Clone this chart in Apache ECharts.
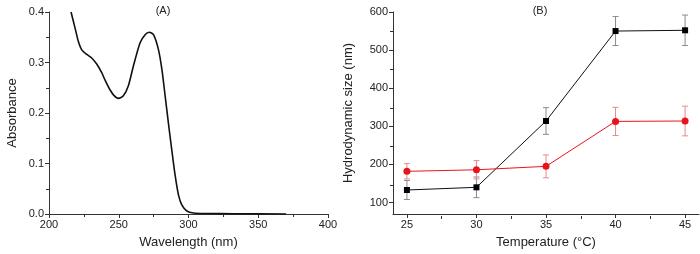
<!DOCTYPE html>
<html><head><meta charset="utf-8">
<script src="https://cdn.jsdelivr.net/npm/echarts@6/dist/echarts.min.js"></script>
<style>html,body{margin:0;padding:0;background:#fff}#c{width:700px;height:254px}</style>
</head><body><div id="c"></div>
<script>
// Panel A: UV-Vis spectrum
var wavelength = [215.8, 218.7, 221.0, 223.5, 227.1, 230.6, 234.2, 237.8, 240.2, 243.5, 246.5, 249.8, 253.3, 256.9, 260.5, 265.3, 268.9, 271.8, 274.9, 278.5, 281.0, 283.2, 285.6, 288.1, 290.4, 292.8, 295.2, 298.8, 303.6, 313, 332, 370];
var absorbance = [0.400, 0.368, 0.342, 0.325, 0.316, 0.309, 0.297, 0.280, 0.265, 0.247, 0.235, 0.229, 0.234, 0.254, 0.293, 0.339, 0.355, 0.360, 0.355, 0.325, 0.285, 0.235, 0.180, 0.125, 0.077, 0.038, 0.018, 0.006, 0.002, 0.001, 0.0005, 0.0];
// Panel B: hydrodynamic size vs temperature
var temperature = [25, 30, 35, 40, 45];
var blackSize = [133, 140, 314, 550, 552];
var blackErr = [25, 27, 35, 38, 40];
var redSize = [182, 186, 195, 313, 314];
var redErr = [20, 24, 30, 37, 39];
var xTicksB = [25, 30, 35, 40, 45];
var xMinorB = [27.5, 32.5, 37.5, 42.5];
var yTicksB = [100, 200, 300, 400, 500, 600];
var yMinorB = [150, 250, 350, 450, 550];

var FONT = '"Liberation Sans", Arial, sans-serif';
var AX = '#333';
var TXT = '#222';

function pairs(xs, ys) { return xs.map(function (x, i) { return [x, ys[i]]; }); }
function errData(xs, ys, es) { return xs.map(function (x, i) { return [x, ys[i] - es[i], ys[i] + es[i]]; }); }
function errSeries(data, color, xi, yi) {
  return {
    type: 'custom', xAxisIndex: xi, yAxisIndex: yi, data: data, z: 1,
    renderItem: function (params, api) {
      var lo = api.coord([api.value(0), api.value(1)]);
      var hi = api.coord([api.value(0), api.value(2)]);
      var w = 3;
      var st = { stroke: color, lineWidth: 1 };
      return { type: 'group', children: [
        { type: 'line', shape: { x1: lo[0], y1: lo[1], x2: hi[0], y2: hi[1] }, style: st },
        { type: 'line', shape: { x1: lo[0] - w, y1: lo[1], x2: lo[0] + w, y2: lo[1] }, style: st },
        { type: 'line', shape: { x1: hi[0] - w, y1: hi[1], x2: hi[0] + w, y2: hi[1] }, style: st }
      ]};
    }
  };
}

var axLabel = { color: TXT, fontFamily: FONT, fontSize: 11, margin: 5 };
var nameStyle = { color: TXT, fontFamily: FONT, fontSize: 13 };

var chart = echarts.init(document.getElementById('c'), null, { renderer: 'canvas' });
chart.setOption({
  animation: false,
  backgroundColor: '#fff',
  title: [
    { text: '(A)', left: 158, top: 0, textAlign: 'center', textStyle: { fontFamily: FONT, fontSize: 11, fontWeight: 'normal', color: TXT } },
    { text: '(B)', left: 535, top: 0, textAlign: 'center', textStyle: { fontFamily: FONT, fontSize: 11, fontWeight: 'normal', color: TXT } }
  ],
  grid: [
    { left: 49, top: 12, width: 279, height: 204 },
    { left: 393, top: 12, width: 306, height: 204 },
    { left: 393, top: 12, width: 306, height: 204 }
  ],
  xAxis: [
    { type: 'value', gridIndex: 0, min: 200, max: 400, interval: 50,
      name: 'Wavelength (nm)', nameLocation: 'middle', nameGap: 22, nameTextStyle: nameStyle,
      axisLine: { lineStyle: { color: AX } }, axisTick: { length: 4, lineStyle: { color: AX } },
      minorTick: { show: true, splitNumber: 2, length: 3, lineStyle: { color: AX } },
      axisLabel: axLabel, splitLine: { show: false } },
    { type: 'value', gridIndex: 1, min: 24, max: 46,
      name: 'Temperature (°C)', nameLocation: 'middle', nameGap: 22, nameTextStyle: nameStyle,
      axisLine: { lineStyle: { color: AX } },
      axisTick: { length: 4, customValues: xTicksB, lineStyle: { color: AX } },
      axisLabel: Object.assign({}, axLabel, { customValues: xTicksB }), splitLine: { show: false } },
    { type: 'value', gridIndex: 2, min: 24, max: 46,
      axisLine: { show: false },
      axisTick: { length: 3, customValues: xMinorB, lineStyle: { color: AX } },
      axisLabel: { show: false, customValues: xMinorB }, splitLine: { show: false } }
  ],
  yAxis: [
    { type: 'value', gridIndex: 0, min: 0, max: 0.4, interval: 0.1,
      name: 'Absorbance', nameLocation: 'middle', nameGap: 30, nameTextStyle: nameStyle,
      axisLine: { show: true, lineStyle: { color: AX } }, axisTick: { show: true, length: 4, lineStyle: { color: AX } },
      minorTick: { show: true, splitNumber: 2, length: 3, lineStyle: { color: AX } },
      axisLabel: Object.assign({}, axLabel, { formatter: function (v) { return v.toFixed(1); } }), splitLine: { show: false } },
    { type: 'value', gridIndex: 1, min: 70, max: 600,
      name: 'Hydrodynamic size (nm)', nameLocation: 'middle', nameGap: 38, nameTextStyle: nameStyle,
      axisLine: { show: true, lineStyle: { color: AX } },
      axisTick: { show: true, length: 4, customValues: yTicksB, lineStyle: { color: AX } },
      axisLabel: Object.assign({}, axLabel, { customValues: yTicksB }), splitLine: { show: false } },
    { type: 'value', gridIndex: 2, min: 70, max: 600,
      axisLine: { show: false },
      axisTick: { show: true, length: 3, customValues: yMinorB, lineStyle: { color: AX } },
      axisLabel: { show: false, customValues: yMinorB }, splitLine: { show: false } }
  ],
  series: [
    { type: 'line', xAxisIndex: 0, yAxisIndex: 0, data: pairs(wavelength, absorbance), smooth: 0.25,
      showSymbol: false, lineStyle: { color: '#111', width: 1.6 } },
    errSeries(errData(temperature, blackSize, blackErr), '#8a8a8a', 1, 1),
    errSeries(errData(temperature, redSize, redErr), '#e8898c', 1, 1),
    { type: 'line', xAxisIndex: 1, yAxisIndex: 1, data: pairs(temperature, blackSize), z: 3,
      symbol: 'rect', symbolSize: 6, itemStyle: { color: '#000' }, lineStyle: { color: '#111', width: 1 } },
    { type: 'line', xAxisIndex: 1, yAxisIndex: 1, data: pairs(temperature, redSize), z: 3,
      symbol: 'circle', symbolSize: 7, itemStyle: { color: '#e8141c' }, lineStyle: { color: '#e8141c', width: 1 } }
  ]
});
</script></body></html>
